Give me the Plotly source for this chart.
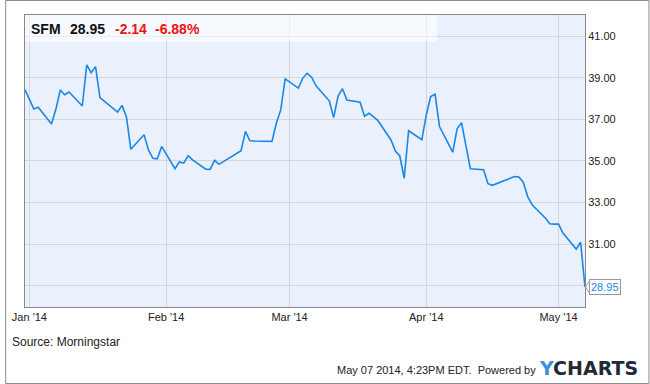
import plotly.graph_objects as go

dates = [
    "2013-12-31", "2014-01-02", "2014-01-03", "2014-01-06", "2014-01-07", "2014-01-08",
    "2014-01-09", "2014-01-10", "2014-01-13", "2014-01-14", "2014-01-15", "2014-01-16",
    "2014-01-17", "2014-01-21", "2014-01-22", "2014-01-23", "2014-01-24", "2014-01-27",
    "2014-01-28", "2014-01-29", "2014-01-30", "2014-01-31", "2014-02-03", "2014-02-04",
    "2014-02-05", "2014-02-06", "2014-02-07", "2014-02-10", "2014-02-11", "2014-02-12",
    "2014-02-13", "2014-02-14", "2014-02-18", "2014-02-19", "2014-02-20", "2014-02-21",
    "2014-02-24", "2014-02-25", "2014-02-26", "2014-02-27", "2014-02-28", "2014-03-03",
    "2014-03-04", "2014-03-05", "2014-03-06", "2014-03-07", "2014-03-10", "2014-03-11",
    "2014-03-12", "2014-03-13", "2014-03-14", "2014-03-17", "2014-03-18", "2014-03-19",
    "2014-03-20", "2014-03-21", "2014-03-24", "2014-03-25", "2014-03-26", "2014-03-27",
    "2014-03-28", "2014-03-31", "2014-04-01", "2014-04-02", "2014-04-03", "2014-04-04",
    "2014-04-07", "2014-04-08", "2014-04-09", "2014-04-10", "2014-04-11", "2014-04-14",
    "2014-04-15", "2014-04-16", "2014-04-17", "2014-04-21", "2014-04-22", "2014-04-23",
    "2014-04-24", "2014-04-25", "2014-04-28", "2014-04-29", "2014-04-30", "2014-05-01",
    "2014-05-02", "2014-05-05", "2014-05-06", "2014-05-07",
]
prices = [
    38.41, 37.50, 37.58, 36.78, 37.48, 38.41,
    38.18, 38.31, 37.64, 39.61, 39.24, 39.53,
    38.04, 37.35, 37.67, 37.13, 35.56, 36.26,
    35.53, 35.13, 35.10, 35.70, 34.63, 34.95,
    34.90, 35.25, 35.05, 34.61, 34.60, 35.03,
    34.84, 34.97, 35.49, 36.42, 35.97, 35.96,
    35.96, 35.94, 36.81, 37.45, 38.94, 38.50,
    38.98, 39.21, 39.02, 38.61, 37.89, 37.08,
    38.12, 38.47, 37.93, 37.82, 37.15, 37.29,
    37.13, 36.95, 36.01, 35.48, 35.24, 34.17,
    36.45, 36.02, 37.21, 38.09, 38.20, 36.65,
    35.42, 36.54, 36.84, 35.73, 34.63, 34.58,
    33.91, 33.83, 33.91, 34.25, 34.23, 33.98,
    33.29, 32.90, 32.26, 31.99, 31.97, 31.97,
    31.54, 30.77, 31.10, 28.95,
]
ticker = "SFM"
last_price = "28.95"
change = "-2.14"
change_pct = "-6.88%"
x_tick_vals = ["2014-01-01", "2014-02-01", "2014-03-01", "2014-04-01", "2014-05-01"]
x_tick_text = ["Jan '14", "Feb '14", "Mar '14", "Apr '14", "May '14"]
y_tick_vals = [29, 31, 33, 35, 37, 39, 41]
y_tick_text = ["", "31.00", "33.00", "35.00", "37.00", "39.00", "41.00"]

W, H = 650, 384
L, R, T, B = 20, 65, 15, 77
PW, PH = W - L - R, H - T - B

def px(x):
    return (x - L) / PW

def py(y):
    return 1 - (y - T) / PH

LINE = "#1a87e6"
FONT = "Liberation Sans, Arial, sans-serif"

fig = go.Figure()
fig.add_trace(go.Scatter(x=dates, y=prices, mode="lines",
                         line=dict(color=LINE, width=1.6), hoverinfo="skip"))

shapes = [
    dict(type="rect", xref="paper", yref="paper", x0=0, x1=px(436), y0=py(41.7), y1=1,
         fillcolor="rgba(255,255,255,0.55)", line=dict(width=0), layer="above"),
    dict(type="rect", xref="paper", yref="paper", x0=px(0.5), x1=px(649.5), y0=py(383.5), y1=py(0.5),
         line=dict(color="#8a8a8a", width=1), layer="above"),
    dict(type="path", xref="paper", yref="y",
         path=f"M {px(589)},{28.95 + 5.5/20.83} L {px(585.5)},28.95 L {px(589)},{28.95 - 5.5/20.83}",
         line=dict(color="#999999", width=1), fillcolor="white", layer="above"),
]

annotations = []
hdr_y = py(28.5)
for txt, x0, col in [(ticker, 24.5, "#111111"), (last_price, 63.5, "#111111"),
                     (change, 108.5, "#ee1111"), (change_pct, 149.5, "#ee1111")]:
    annotations.append(dict(text=f"<b>{txt}</b>", xref="paper", yref="paper", x=px(x0), y=hdr_y,
                            xanchor="left", yanchor="middle", showarrow=False,
                            font=dict(family=FONT, size=14, color=col)))
annotations.append(dict(text=last_price, xref="paper", yref="y", x=px(589), y=28.95,
                        xanchor="left", yanchor="middle", showarrow=False,
                        font=dict(family=FONT, size=11, color=LINE),
                        bgcolor="white", bordercolor="#999999", borderwidth=1, borderpad=1))
annotations.append(dict(text="Source: Morningstar", xref="paper", yref="paper", x=px(5), y=py(342),
                        xanchor="left", yanchor="middle", showarrow=False,
                        font=dict(family=FONT, size=12, color="#222222")))
annotations.append(dict(text="May 07 2014, 4:23PM EDT.  Powered by", xref="paper", yref="paper",
                        x=px(538), y=py(370), xanchor="right", yanchor="middle", showarrow=False,
                        font=dict(family=FONT, size=11, color="#222222")))
annotations.append(dict(text="<b><span style='color:#3b8fe0'>Y</span>CHARTS</b>", xref="paper", yref="paper",
                        x=px(537), y=py(368), xanchor="left", yanchor="middle", showarrow=False,
                        font=dict(family="DejaVu Sans, sans-serif", size=19, color="#1f2a36")))

fig.update_layout(
    width=W, height=H,
    margin=dict(l=L, r=R, t=T, b=B, pad=0),
    paper_bgcolor="white",
    plot_bgcolor="#eaf1fc",
    showlegend=False,
    shapes=shapes,
    annotations=annotations,
    xaxis=dict(range=["2013-12-31", "2014-05-07"], tickvals=x_tick_vals, ticktext=x_tick_text,
               showgrid=True, gridcolor="#d6d6d6", gridwidth=1, zeroline=False,
               showline=True, linecolor="#888888", linewidth=1, mirror=True,
               ticks="", tickfont=dict(family=FONT, size=11, color="#222222")),
    yaxis=dict(range=[27.99, 42.008], side="right", tickvals=y_tick_vals, ticktext=y_tick_text,
               showgrid=True, gridcolor="#d6d6d6", gridwidth=1, zeroline=False,
               showline=True, linecolor="#888888", linewidth=1, mirror=True,
               ticks="", tickfont=dict(family=FONT, size=11, color="#222222")),
)

fig.write_html("out.html")
